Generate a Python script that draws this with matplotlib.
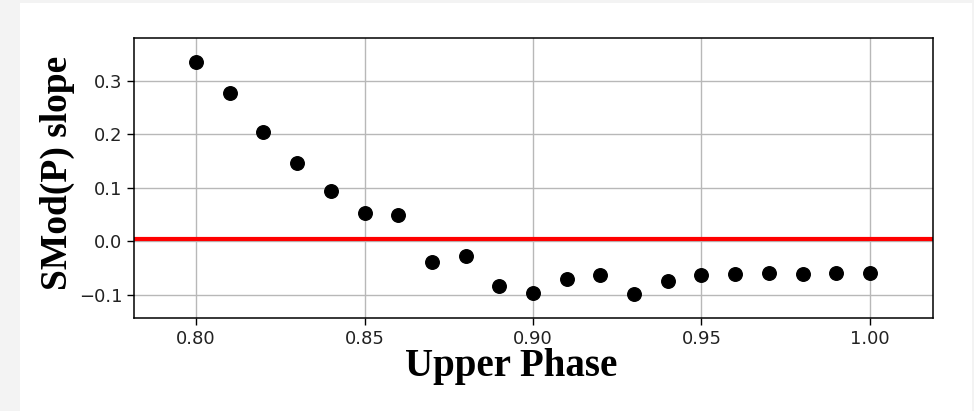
import matplotlib
matplotlib.use("Agg")
import matplotlib.pyplot as plt
from matplotlib.patches import Rectangle

# Phase thresholds and the fitted SMod(P) slope at each
upper_phase = [0.80, 0.81, 0.82, 0.83, 0.84, 0.85, 0.86, 0.87, 0.88, 0.89, 0.90,
               0.91, 0.92, 0.93, 0.94, 0.95, 0.96, 0.97, 0.98, 0.99, 1.00]
slope = [0.336, 0.277, 0.205, 0.146, 0.094, 0.054, 0.049, -0.038, -0.028, -0.083, -0.096,
         -0.071, -0.063, -0.099, -0.074, -0.063, -0.060, -0.058, -0.060, -0.058, -0.058]
reference_level = 0.005

x_ticks = [0.80, 0.85, 0.90, 0.95, 1.00]
x_tick_labels = ["0.80", "0.85", "0.90", "0.95", "1.00"]
y_ticks = [-0.1, 0.0, 0.1, 0.2, 0.3]
y_tick_labels = ["\u22120.1", "0.0", "0.1", "0.2", "0.3"]

W, H = 974, 411
fig = plt.figure(figsize=(W / 100, H / 100), dpi=100, facecolor="#f3f3f3")
fig.patches.append(Rectangle((20 / W, 0), (972 - 20) / W, (H - 3) / H,
                             transform=fig.transFigure, facecolor="white",
                             edgecolor="none", zorder=-10))

ax = fig.add_axes([134 / W, 1 - 318 / H, (933 - 134) / W, (318 - 38) / H])
ax.set_facecolor("white")

ax.scatter(upper_phase, slope, s=95, color="black", zorder=3)
ax.axhline(reference_level, color="red", linewidth=3, zorder=2)

ax.set_xlim(0.7816, 1.0187)
ax.set_ylim(-0.1429, 0.380)
ax.set_xticks(x_ticks, x_tick_labels)
ax.set_yticks(y_ticks, y_tick_labels)
ax.grid(True, color="#b8b8b8", linewidth=1.0)
ax.set_axisbelow(True)
ax.tick_params(labelsize=13, length=5, width=1.0, colors="black", labelcolor="#222222")
for sp in ax.spines.values():
    sp.set_linewidth(1.1)

fig.text(511.5 / W, 1 - 376 / H, "Upper Phase", ha="center", va="baseline",
         family="Liberation Serif", fontweight="bold", fontsize=28)
fig.text(57 / W, 1 - 172.5 / H, "SMod(P) slope", ha="center", va="center",
         rotation=90, family="Liberation Serif", fontweight="bold", fontsize=27)

fig.savefig("out.png", dpi=100, facecolor=fig.get_facecolor())
